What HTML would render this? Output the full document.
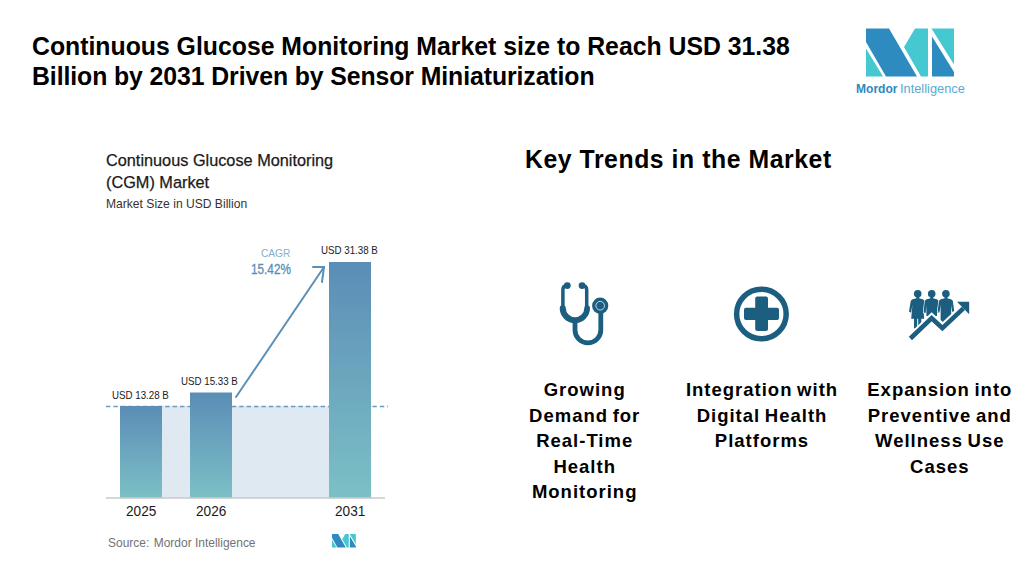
<!DOCTYPE html>
<html><head><meta charset="utf-8">
<style>
html,body{margin:0;padding:0;background:#fff;}
body{width:1035px;height:586px;position:relative;overflow:hidden;font-family:"Liberation Sans",sans-serif;}
.a{position:absolute;white-space:nowrap;}
#t1,#t2{font-weight:bold;font-size:24.8px;color:#000;left:32px;line-height:30px;transform:scaleY(1.05);transform-origin:0 22px;}
#t1{top:31.8px;}
#t2{top:61.6px;letter-spacing:-0.08px;}
#kt{font-weight:bold;font-size:24.8px;letter-spacing:0.55px;color:#000;left:525px;top:145.5px;transform:scaleY(1.05);transform-origin:0 22px;}
.col{position:absolute;text-align:center;font-weight:bold;font-size:18.5px;letter-spacing:1px;word-spacing:-1.5px;line-height:25.6px;color:#000;width:180px;}
#ct1,#ct2{font-size:16.3px;color:#1a1a1a;left:106px;-webkit-text-stroke:0.25px #1a1a1a;}
#ct3{font-size:12.1px;color:#333;left:106px;}
.lbl{font-size:11px;transform:scaleX(0.885);transform-origin:0 0;color:#1a1a1a;}
.yr{font-size:14.8px;transform:scaleX(0.92);transform-origin:0 0;color:#1a1a1a;}
</style></head>
<body>
<div class="a" id="t1">Continuous Glucose Monitoring Market size to Reach USD 31.38</div>
<div class="a" id="t2">Billion by 2031 Driven by Sensor Miniaturization</div>

<!-- logo -->
<svg class="a" style="left:0;top:0" width="1035" height="586" viewBox="0 0 1035 586">
  <g id="logo">
    <polygon points="866,28.5 889,28.5 917,76.4 886,76.4 866,42" fill="#2d8bbf"/>
    <polygon points="866,48.5 866,76.4 883,76.4" fill="#45c8cf"/>
    <polygon points="915,28.5 928,28.5 928,76.4 921,76.4 904,47" fill="#45c8cf"/>
    <polygon points="932,36.5 932,76.4 954,76.4 954,72" fill="#2d8bbf"/>
    <polygon points="931.5,28.5 954,28.5 954,64.6" fill="#45c8cf"/>
  </g>
  <text x="856" y="92.6" font-family="Liberation Sans" font-size="13.2" font-weight="bold" fill="#2f88bd" textLength="41.5" lengthAdjust="spacingAndGlyphs">Mordor</text>
  <text x="900" y="92.6" font-family="Liberation Sans" font-size="13.2" fill="#5aa9cf" textLength="64.8" lengthAdjust="spacingAndGlyphs">Intelligence</text>
</svg>

<div class="a" id="ct1" style="top:151px">Continuous Glucose Monitoring</div>
<div class="a" id="ct2" style="top:173px">(CGM) Market</div>
<div class="a" id="ct3" style="top:196.5px">Market Size in USD Billion</div>

<svg class="a" style="left:0;top:0" width="1035" height="586" viewBox="0 0 1035 586">
  <defs>
    <linearGradient id="bg" x1="0" y1="0" x2="0" y2="1">
      <stop offset="0" stop-color="#5b8db6"/>
      <stop offset="1" stop-color="#7cc0c6"/>
    </linearGradient>
    <linearGradient id="bg2" gradientUnits="userSpaceOnUse" x1="0" y1="262" x2="0" y2="498">
      <stop offset="0" stop-color="#5b8db6"/>
      <stop offset="1" stop-color="#7cc0c6"/>
    </linearGradient>
  </defs>
  <rect x="120" y="406" width="251" height="92" fill="#dee9f1"/>
  <line x1="106" y1="406.5" x2="388" y2="406.5" stroke="#6a9cc0" stroke-width="1.3" stroke-dasharray="4.4,3"/>
  <rect x="120" y="406" width="42" height="92" fill="url(#bg)"/>
  <rect x="190" y="392.5" width="42" height="105.5" fill="url(#bg)"/>
  <rect x="329" y="262" width="42" height="236" fill="url(#bg2)"/>
  <line x1="106" y1="498" x2="385" y2="498" stroke="#c8c8c8" stroke-width="1.5"/>
  <g stroke="#5a8fb6" stroke-width="2" fill="none" stroke-linecap="round">
    <line x1="236" y1="397" x2="324" y2="267"/>
    <polyline points="313,267 324,267 322,282"/>
  </g>
</svg>
<div class="a lbl" id="l1" style="left:112px;top:388.5px">USD 13.28 B</div>
<div class="a lbl" id="l2" style="left:181px;top:375px">USD 15.33 B</div>
<div class="a lbl" id="l3" style="left:320.5px;top:243.7px">USD 31.38 B</div>
<div class="a" id="cagr" style="left:261px;top:246.5px;font-size:11.3px;transform:scaleX(0.9);transform-origin:0 0;color:#86afcc">CAGR</div>
<div class="a" id="pct" style="left:250.5px;top:260.5px;font-size:14.2px;transform:scaleX(0.83);transform-origin:0 0;color:#5a8db5;-webkit-text-stroke:0.3px #5a8db5">15.42%</div>
<div class="a yr" id="y1" style="left:126px;top:502.5px">2025</div>
<div class="a yr" id="y2" style="left:195.5px;top:502.5px">2026</div>
<div class="a yr" id="y3" style="left:335px;top:502.5px">2031</div>
<div class="a" id="src" style="left:108px;top:535px;font-size:13.3px;transform:scaleX(0.9);transform-origin:0 0;color:#737373">Source:<span style="display:inline-block;width:5px"></span>Mordor Intelligence</div>
<svg class="a" style="left:331.9px;top:534.2px" width="23.8" height="13.6" viewBox="866 28.5 88 47.9" preserveAspectRatio="none">
  <polygon points="866,28.5 889,28.5 917,76.4 886,76.4 866,42" fill="#2d8bbf"/>
  <polygon points="866,48.5 866,76.4 883,76.4" fill="#45c8cf"/>
  <polygon points="915,28.5 928,28.5 928,76.4 921,76.4 904,47" fill="#45c8cf"/>
  <polygon points="932,36.5 932,76.4 954,76.4 954,72" fill="#2d8bbf"/>
  <polygon points="931.5,28.5 954,28.5 954,64.6" fill="#45c8cf"/>
</svg>

<div class="a" id="kt">Key Trends in the Market</div>

<!-- icons -->
<svg class="a" style="left:0;top:0" width="1035" height="586" viewBox="0 0 1035 586">
  <g fill="#1b5e80">
    <circle cx="567.3" cy="285.6" r="3.4"/>
    <circle cx="582.05" cy="285.6" r="3.4"/>
    <path d="M567.3 285.6 Q562.9 285.6 562.9 290 L562.9 308 M582 285.6 Q586.7 285.6 586.7 290 L586.7 308" fill="none" stroke="#1b5e80" stroke-width="3.5"/>
    <path d="M559.7 308 A15.15 15.15 0 0 0 590 308 Q590 305.6 587.6 305.6 L586.7 305.6 Q584.3 305.6 584.3 308 A9.25 9.25 0 0 1 565.8 308 Q565.8 305.6 563.4 305.6 L562.1 305.6 Q559.7 305.6 559.7 308 Z"/>
    <path d="M575 320 L575 330 A12.9 12.9 0 0 0 600.8 330 L600.8 310" fill="none" stroke="#1b5e80" stroke-width="4.8"/>
    <circle cx="600.2" cy="305.7" r="8.1"/>
    <circle cx="600.2" cy="305.7" r="4.3" fill="none" stroke="#e8f0f3" stroke-width="0.8"/>
    <circle cx="917.7" cy="293.7" r="3.8"/>
    <circle cx="931.7" cy="293.7" r="3.8"/>
    <circle cx="945.9" cy="293.7" r="3.8"/>
    <path d="M915.6 298.6 L919.8 298.6 Q923.5 299 924.6 300.8 L926.3 311.5 L924.3 312.8 L923 305 L924.2 318.7 L921.3 318.7 L921.3 328.6 L918.2 328.6 L918.2 318.7 L917.2 318.7 L917.2 328.6 L914 328.6 L914 318.7 L911.2 318.7 L912.4 305 L911 312.8 L909 311.5 L910.8 300.8 Q911.9 299 915.6 298.6 Z M916.3 296 L919.3 296 L919.3 299.5 L916.3 299.5 Z"/>
    <path stroke="#fff" stroke-width="1.2" paint-order="stroke" d="M 929.6 298.6 L 933.8 298.6 Q 937.5 299 938.6 300.8 L 939.8 312.5 L 937.8 313 L 937 306 L 937 316 L 926.4 316 L 926.4 306 L 925.6 313 L 923.6 312.5 L 924.8 300.8 Q 925.9 299 929.6 298.6 Z"/>
    <path d="M 930.3 296 L 933.3 296 L 933.3 299.5 L 930.3 299.5 Z"/>
    <path stroke="#fff" stroke-width="1.2" paint-order="stroke" d="M 943.8 298.6 L 948 298.6 Q 951.7 299 952.8 300.8 L 954.2 311 L 952.2 312 L 951.2 305 L 951.2 320.7 L 948.8 320.7 L 948.8 325 L 942.3 325 L 942.3 320.7 L 940.6 320.7 L 940.6 305 L 939.6 312 L 937.6 311.5 L 939 300.8 Q 940.1 299 943.8 298.6 Z"/>
    <path d="M 944.5 296 L 947.5 296 L 947.5 299.5 L 944.5 299.5 Z"/>
    <polyline points="910.4,338.5 931.7,318.2 942.4,328.1 963.4,308.3" fill="none" stroke="#fff" stroke-width="8.5" stroke-linejoin="miter"/>
    <polyline points="910.4,338.5 931.7,318.2 942.4,328.1 963.4,308.3" fill="none" stroke="#1b5e80" stroke-width="4.6" stroke-linejoin="miter"/>
    <polygon points="957,301.8 969.2,301.8 969.2,314.2"/>
    <circle cx="761.4" cy="314" r="24.8" fill="none" stroke="#1b5e80" stroke-width="5.5"/>
    <rect x="744" y="307.8" width="35" height="12.2" rx="2"/>
    <rect x="755.2" y="296.6" width="12.8" height="34.4" rx="2"/>
  </g>
</svg>

<div class="col" id="c1" style="left:494.7px;top:377px">Growing<br>Demand for<br>Real-Time<br>Health<br>Monitoring</div>
<div class="col" id="c2" style="left:672px;top:377px">Integration with<br>Digital Health<br>Platforms</div>
<div class="col" id="c3" style="left:849.8px;top:377px">Expansion into<br>Preventive and<br>Wellness Use<br>Cases</div>
</body></html>
